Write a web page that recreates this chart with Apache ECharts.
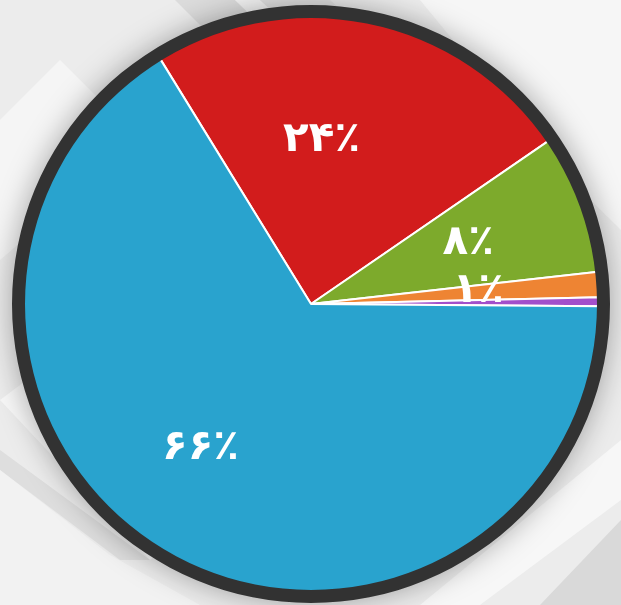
<!DOCTYPE html>
<html>
<head>
<meta charset="utf-8">
<script src="https://cdn.jsdelivr.net/npm/echarts@6/dist/echarts.min.js"></script>
<style>
html,body{margin:0;padding:0;background:#ededed;}
#chart{width:621px;height:605px;}
</style>
</head>
<body>
<div id="chart"></div>
<script>
// Data (clockwise from the red/blue boundary)
const categories = ['red', 'green', 'orange', 'purple', 'blue'];
const values = [24.2, 7.8, 1.4, 0.5, 66.1];
const labels = ['۲۴٪', '۸٪', '۱٪', '', '۶۶٪'];
const colors = ['#D21C1C', '#7DAA2C', '#EE8433', '#A24FCB', '#29A3CE'];
const labelOffsets = [[-20, -20], [19, -9], [20, -3], [0, 0], [-38, 16]];

const chart = echarts.init(document.getElementById('chart'), null, {renderer: 'canvas'});

const pieData = categories.map((c, i) => ({
  name: c,
  value: values[i],
  itemStyle: {color: colors[i]},
  label: {offset: labelOffsets[i]}
}));

const bg = [
  // top-left stripes
  {pts: [[175,0],[235,0],[365,125],[335,160]], fill: '#dcdcdc'},
  {pts: [[235,0],[260,0],[380,110],[365,125]], fill: '#f4f4f4'},
  {pts: [[260,0],[330,0],[420,80],[380,110]], fill: '#e2e2e2'},
  // top-right light band
  {pts: [[420,0],[621,0],[621,230],[560,170]], fill: '#f6f6f6'},
  // left white band
  {pts: [[0,120],[60,60],[140,140],[0,260]], fill: '#f5f5f5'},
  // bottom-left bands
  {pts: [[0,400],[40,370],[200,520],[150,560]], fill: '#f7f7f7'},
  {pts: [[0,450],[0,470],[120,560],[150,560]], fill: '#dedede'},
  {pts: [[0,470],[0,605],[200,605],[110,555]], fill: '#f2f2f2'},
  // bottom-right bands
  {pts: [[621,440],[621,500],[480,605],[420,605]], fill: '#f7f7f7'},
  {pts: [[621,520],[621,605],[540,605]], fill: '#d9d9d9'}
];

const center = [311, 304];

chart.setOption({
  backgroundColor: '#ececec',
  animation: false,
  graphic: bg.map(b => ({
    type: 'polygon', silent: true, z: -10,
    shape: {points: b.pts},
    style: {fill: b.fill}
  })),
  series: [
    {
      // soft shadow disc behind the pie
      type: 'pie',
      silent: true,
      center: center,
      radius: [0, 298],
      label: {show: false},
      labelLine: {show: false},
      itemStyle: {color: '#323232', shadowBlur: 30, shadowColor: 'rgba(0,0,0,0.35)'},
      data: [{value: 1}],
      z: 1
    },
    {
      type: 'pie',
      center: center,
      radius: [0, 289],
      startAngle: 121.6,
      clockwise: true,
      avoidLabelOverlap: false,
      minAngle: 0,
      label: {
        show: true,
        position: 'inside',
        formatter: p => labels[p.dataIndex],
        color: '#ffffff',
        fontFamily: 'DejaVu Sans',
        fontWeight: 'bold',
        fontSize: 42
      },
      labelLine: {show: false},
      itemStyle: {borderColor: '#ffffff', borderWidth: 2},
      data: pieData,
      z: 2
    },
    {
      type: 'pie',
      silent: true,
      center: center,
      radius: [286, 299],
      startAngle: 90,
      label: {show: false},
      labelLine: {show: false},
      itemStyle: {color: '#323232'},
      data: [{value: 1}],
      z: 3
    }
  ]
});
</script>
</body>
</html>
